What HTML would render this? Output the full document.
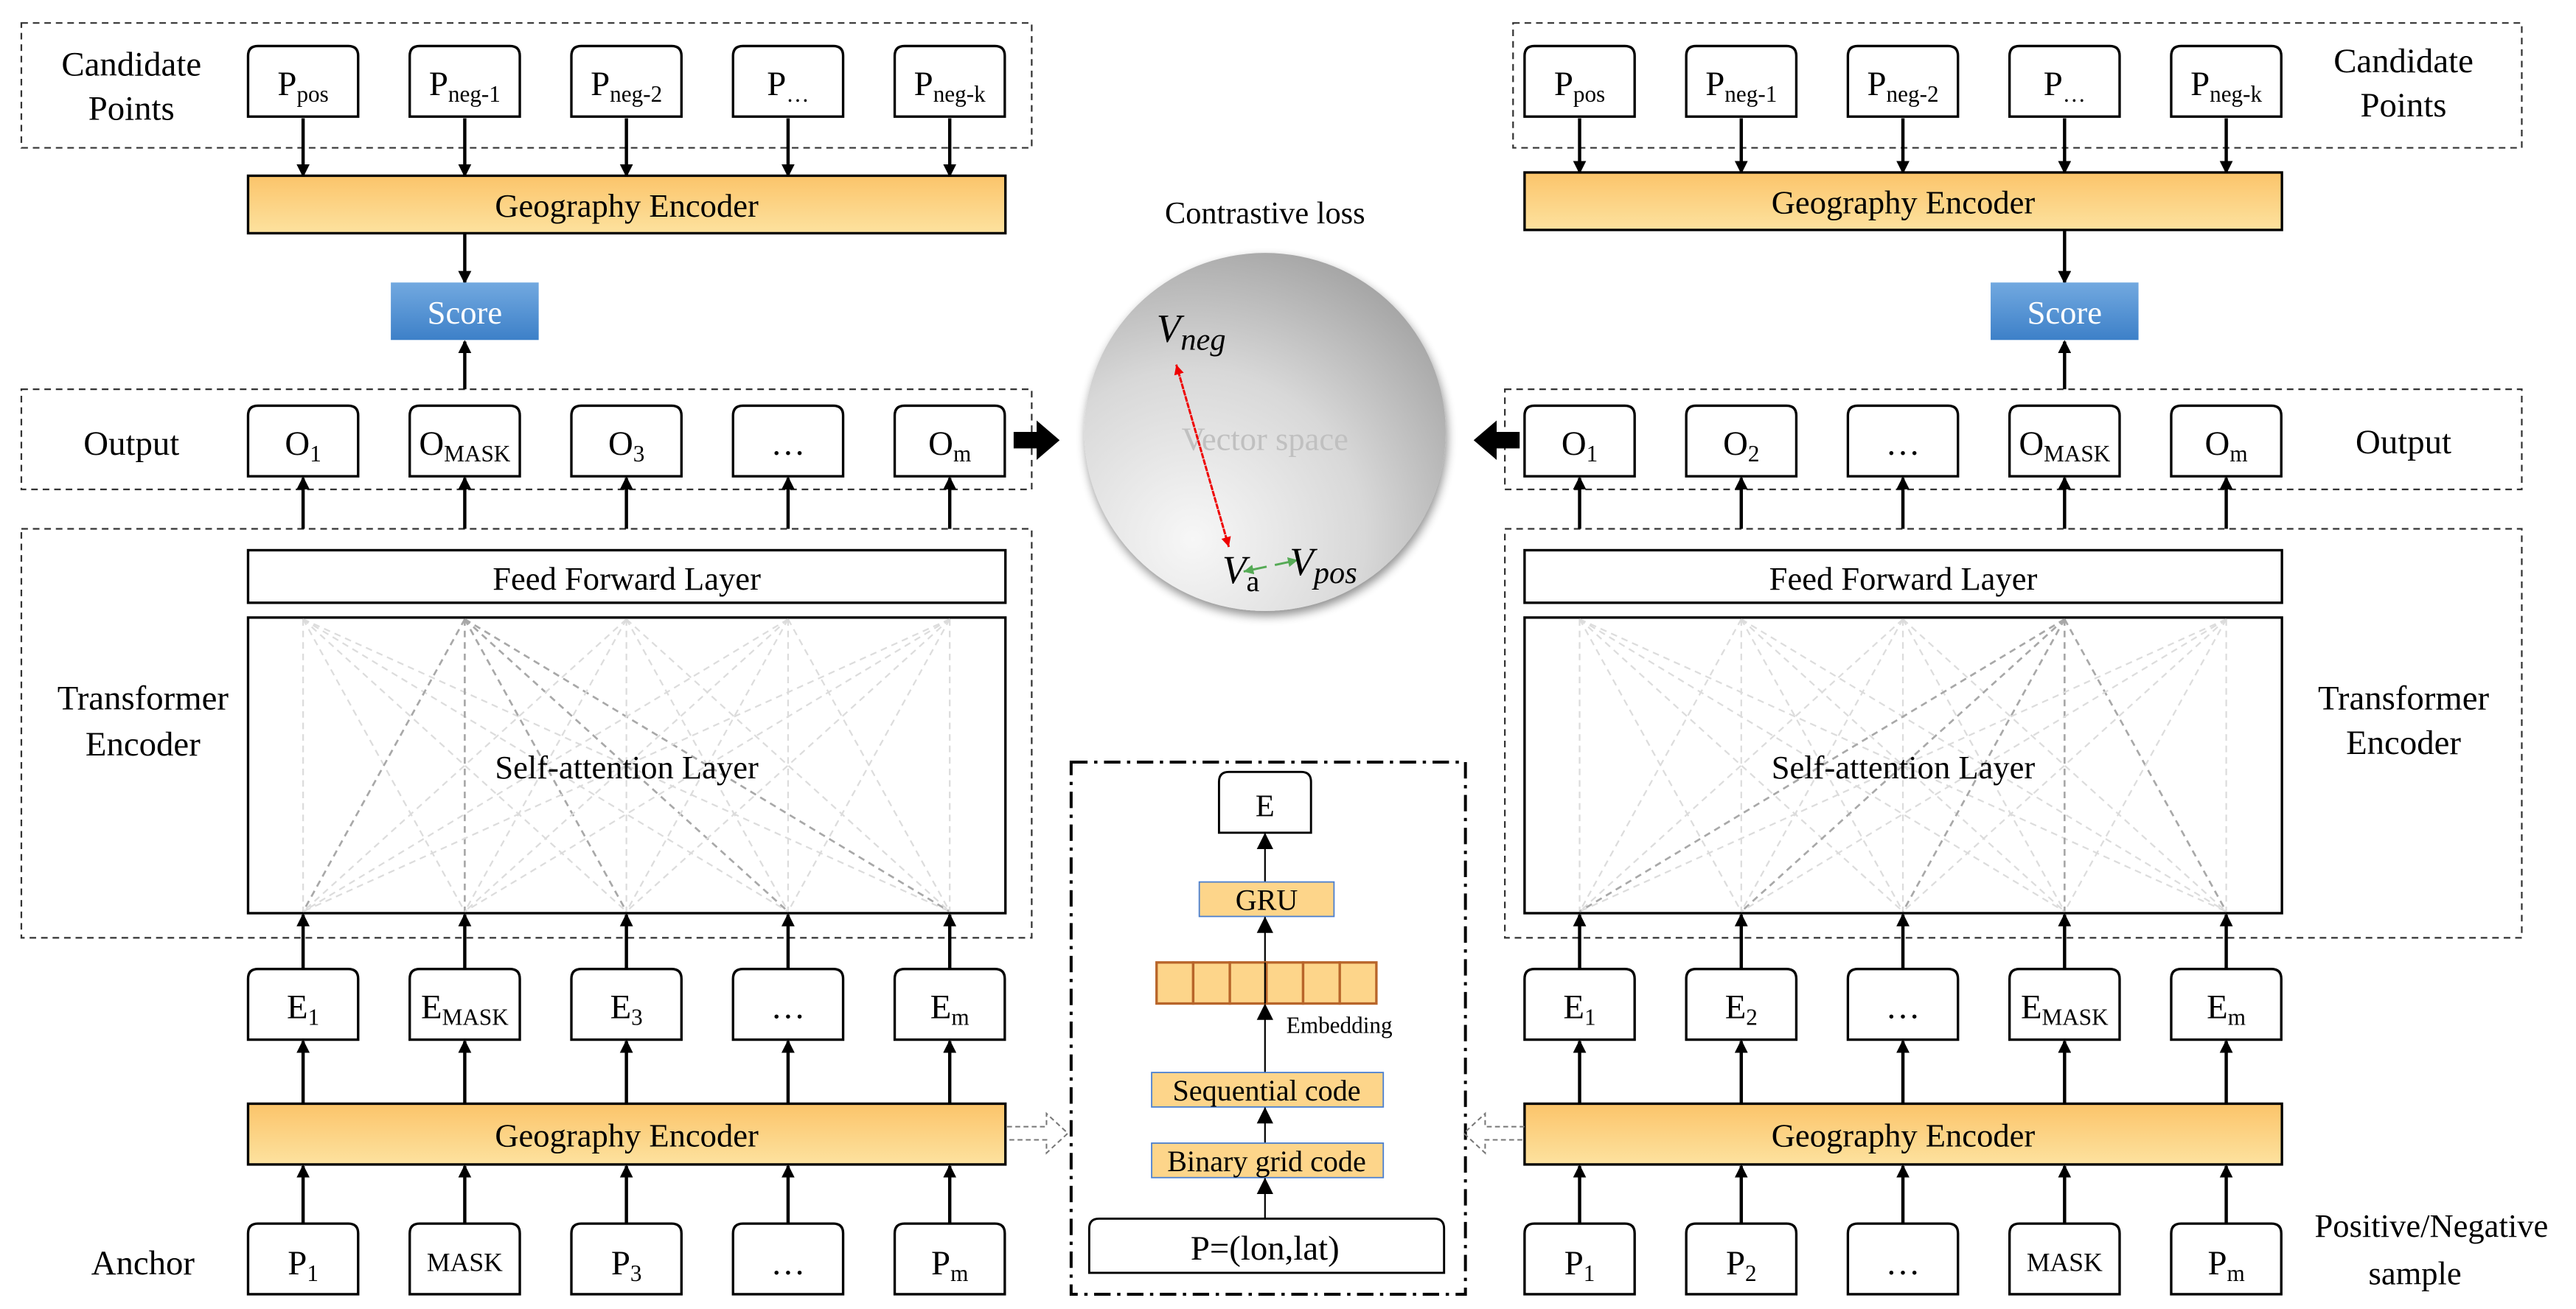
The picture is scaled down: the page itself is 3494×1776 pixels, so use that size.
<!DOCTYPE html>
<html><head><meta charset="utf-8"><style>
html,body{margin:0;padding:0;background:#fff;}
svg{display:block;}
text{font-family:"Liberation Serif",serif;fill:#000;}
</style></head><body>
<svg id="s" width="3494" height="1776" viewBox="0 0 1568 797" preserveAspectRatio="none" xmlns="http://www.w3.org/2000/svg">
<defs>
<linearGradient id="geo" x1="0" y1="0" x2="0" y2="1"><stop offset="0" stop-color="#fbc46a"/><stop offset="1" stop-color="#fde29f"/></linearGradient>
<linearGradient id="sc" x1="0" y1="0" x2="0" y2="1"><stop offset="0" stop-color="#72a9e0"/><stop offset="1" stop-color="#3d80c8"/></linearGradient>
<radialGradient id="sph" cx="0.3" cy="0.8" r="0.95"><stop offset="0" stop-color="#f7f7f7"/><stop offset="0.5" stop-color="#d8d8d8"/><stop offset="1" stop-color="#9a9a9a"/></radialGradient>
<filter id="sh" x="-20%" y="-20%" width="140%" height="140%"><feGaussianBlur in="SourceAlpha" stdDeviation="3"/><feOffset dx="1" dy="3"/><feComponentTransfer><feFuncA type="linear" slope="0.45"/></feComponentTransfer><feMerge><feMergeNode/><feMergeNode in="SourceGraphic"/></feMerge></filter>
<marker id="ah" markerWidth="8" markerHeight="8" refX="7" refY="4" orient="auto" markerUnits="userSpaceOnUse"><path d="M0,0 L8,4 L0,8 z" fill="#000"/></marker>
<marker id="ar" markerWidth="6" markerHeight="6" refX="6" refY="3" orient="auto" markerUnits="userSpaceOnUse"><path d="M0,0 L6,3 L0,6 z" fill="#e00"/></marker>
<marker id="ag" markerWidth="6" markerHeight="6" refX="6" refY="3" orient="auto" markerUnits="userSpaceOnUse"><path d="M0,0 L6,3 L0,6 z" fill="#5a5"/></marker>
</defs>
<g id="g"></g>

<text x="80" y="46" font-size="21" text-anchor="middle">Candidate</text>
<text x="80" y="73" font-size="21" text-anchor="middle">Points</text>
<text x="80" y="277" font-size="21" text-anchor="middle">Output</text>
<text x="87" y="432" font-size="21" text-anchor="middle">Transformer</text>
<text x="87" y="460" font-size="21" text-anchor="middle">Encoder</text>
<text x="87" y="776" font-size="21" text-anchor="middle">Anchor</text>
<text x="1463" y="44" font-size="21" text-anchor="middle">Candidate</text>
<text x="1463" y="71" font-size="21" text-anchor="middle">Points</text>
<text x="1463" y="276" font-size="21" text-anchor="middle">Output</text>
<text x="1463" y="432" font-size="21" text-anchor="middle">Transformer</text>
<text x="1463" y="459" font-size="21" text-anchor="middle">Encoder</text>
<text x="1480" y="753" font-size="20" text-anchor="middle">Positive/Negative</text>
<text x="1470" y="782" font-size="20" text-anchor="middle">sample</text>

<text x="770" y="136" font-size="19" text-anchor="middle">Contrastive loss</text>
<ellipse cx="770" cy="263" rx="110" ry="109" fill="url(#sph)" filter="url(#sh)"/>
<text x="770" y="274" font-size="20" text-anchor="middle" style="fill:#c0c0c0">Vector space</text>
<line x1="716" y1="222" x2="748" y2="333" stroke="#e00" stroke-width="1.3" stroke-dasharray="2,2" marker-end="url(#ar)"/>
<line x1="748" y1="333" x2="716" y2="222" stroke="#e00" stroke-width="1.3" stroke-dasharray="2,2" marker-end="url(#ar)"/>
<line x1="771" y1="345" x2="757" y2="348" stroke="#5a5" stroke-width="1.3" marker-end="url(#ag)"/>
<line x1="776" y1="344" x2="790" y2="341" stroke="#5a5" stroke-width="1.3" marker-end="url(#ag)"/>
<text x="704" y="208" font-size="24" font-style="italic">V<tspan font-size="19" dy="5">neg</tspan></text>
<text x="744" y="355" font-size="24" font-style="italic">V<tspan font-size="18" dy="5" font-style="normal">a</tspan></text>
<text x="785" y="350" font-size="24" font-style="italic">V<tspan font-size="19" dy="5">pos</tspan></text>
<path d="M617,263 h14 v-7 l14,12 l-14,12 v-7 h-14z" fill="#000"/>
<path d="M925,263 h-14 v-7 l-14,12 l14,12 v-7 h14z" fill="#000"/>

<rect x="652" y="464" width="240" height="324" fill="none" stroke="#000" stroke-width="1.8" stroke-dasharray="10,4,2,4"/>
<line x1="770" y1="742" x2="770" y2="478" stroke="#000" stroke-width="1"/>
<path d="M742,507 v-31 q0,-6 6,-6 h44 q6,0 6,6 v31z" fill="#fff" stroke="#000" stroke-width="1.3"/>
<text x="770" y="497" font-size="19" text-anchor="middle">E</text>
<path d="M765,517 l5,-10 l5,10z"/>
<rect x="730" y="537" width="82" height="21" fill="#fdd58a" stroke="#4a7fd0" stroke-width="0.8"/>
<text x="771" y="554" font-size="18" text-anchor="middle">GRU</text>
<path d="M765,568 l5,-10 l5,10z"/>
<g fill="#fdd58a" stroke="#b8652a" stroke-width="1.5">
<rect x="704" y="586" width="22.3" height="25"/><rect x="726.3" y="586" width="22.3" height="25"/><rect x="748.6" y="586" width="22.3" height="25"/><rect x="770.9" y="586" width="22.3" height="25"/><rect x="793.2" y="586" width="22.3" height="25"/><rect x="815.5" y="586" width="22.3" height="25"/>
</g>
<line x1="770" y1="586" x2="770" y2="611" stroke="#000" stroke-width="1"/>
<path d="M765,621 l5,-10 l5,10z"/>
<text x="783" y="629" font-size="14">Embedding</text>
<rect x="701" y="653" width="141" height="21" fill="#fdd58a" stroke="#4a7fd0" stroke-width="0.8"/>
<text x="771" y="670" font-size="18" text-anchor="middle">Sequential code</text>
<path d="M765,684 l5,-10 l5,10z"/>
<rect x="701" y="696" width="141" height="21" fill="#fdd58a" stroke="#4a7fd0" stroke-width="0.8"/>
<text x="771" y="713" font-size="18" text-anchor="middle">Binary grid code</text>
<path d="M765,727 l5,-10 l5,10z"/>
<path d="M663,775 v-27 q0,-6 6,-6 h204 q6,0 6,6 v27z" fill="#fff" stroke="#000" stroke-width="1.3"/>
<text x="770" y="767" font-size="21" text-anchor="middle">P=(lon,lat)</text>

<path d="M613,686 h24 v-8 l13,12 l-13,12 v-8 h-24" fill="none" stroke="#777" stroke-width="0.9" stroke-dasharray="3,2"/>
<path d="M928,686 h-24 v-8 l-13,12 l13,12 v-8 h24" fill="none" stroke="#777" stroke-width="0.9" stroke-dasharray="3,2"/>

<g id="t"></g>
</svg>
<script>
var g=document.getElementById('g'),T=document.getElementById('t'),NS='http://www.w3.org/2000/svg';
function el(p,tag,a){var e=document.createElementNS(NS,tag);for(var k in a)e.setAttribute(k,a[k]);p.appendChild(e);return e;}
function dash(x,y,w,h){el(g,'rect',{x:x,y:y,width:w,height:h,fill:'none',stroke:'#333','stroke-width':1,'stroke-dasharray':'4,3'});}
function box(x,y,w,h){el(g,'path',{d:'M'+x+','+(y+h)+' v'+(-(h-6))+' q0,-6 6,-6 h'+(w-12)+' q6,0 6,6 v'+(h-6)+'z',fill:'#fff',stroke:'#000','stroke-width':1.5});}
function arr(x,y1,y2){el(g,'line',{x1:x,y1:y1,x2:x,y2:y2,stroke:'#000','stroke-width':2,'marker-end':'url(#ah)'});}
function lbl(cx,cy,main,sub,fs,ss){var t=el(T,'text',{x:cx,y:cy,'font-size':fs||21,'text-anchor':'middle'});t.appendChild(document.createTextNode(main));if(sub){var s=el(t,'tspan',{'font-size':ss||14,dy:4});s.textContent=sub;}return t;}
function panel(X,dashX,dashW,geoTop,mask,P,O,E,cands){
 var ex=(X>600?5:0);
 dash(dashX,14,dashW,76);dash(dashX-ex,237,dashW+ex,61);dash(dashX-ex,322,dashW+ex,249);
 for(var i=0;i<5;i++){var bx=X+i*98.4,c=bx+33.5;
  box(bx,28,67,43);arr(c,72,geoTop);
  box(bx,247,67,43);arr(c,322,291);
  box(bx,590,67,43);arr(c,590,557);arr(c,672,634);
  box(bx,745,67,43);arr(c,745,710);
  lbl(c,58,'P',cands[i]);lbl(c,277,O[i][0],O[i][1]);lbl(c,620,E[i][0],E[i][1]);
  if(P[i][0]=='MASK')lbl(c,774,'MASK','',16);else lbl(c,776,P[i][0],P[i][1]);
 }
 el(g,'rect',{x:X,y:geoTop,width:461,height:35,fill:'url(#geo)',stroke:'#000','stroke-width':1.5});
 lbl(X+230.5,geoTop+25,'Geography Encoder','',20);
 el(g,'rect',{x:X,y:672,width:461,height:37,fill:'url(#geo)',stroke:'#000','stroke-width':1.5});
 lbl(X+230.5,698,'Geography Encoder','',20);
 var sx=X+mask*98.4+33.5;
 arr(sx,geoTop+35,172);arr(sx,237,208);
 el(g,'rect',{x:sx-45,y:172,width:90,height:35,fill:'url(#sc)'});
 var st=lbl(sx,197,'Score','',20);st.setAttribute('style','fill:#fff');
 el(g,'rect',{x:X,y:335,width:461,height:32,fill:'#fff',stroke:'#000','stroke-width':1.5});
 lbl(X+230.5,359,'Feed Forward Layer','',20);
 el(g,'rect',{x:X,y:376,width:461,height:180,fill:'#fff',stroke:'#000','stroke-width':1.5});
 for(var a=0;a<5;a++)for(var b=0;b<5;b++){var ax=X+a*98.4+33.5,bx2=X+b*98.4+33.5;
  el(g,'line',{x1:ax,y1:377,x2:bx2,y2:555,stroke:a==mask?'#a8a8a8':'#dcdcdc','stroke-width':a==mask?1.2:1,'stroke-dasharray':'4,3'});}
 lbl(X+230.5,474,'Self-attention Layer','',20);
}
panel(151,13,615,107,1,
 [['P','1'],['MASK',''],['P','3'],['…',''],['P','m']],
 [['O','1'],['O','MASK'],['O','3'],['…',''],['O','m']],
 [['E','1'],['E','MASK'],['E','3'],['…',''],['E','m']],
 ['pos','neg-1','neg-2','…','neg-k']);
panel(928,921,614,105,3,
 [['P','1'],['P','2'],['…',''],['MASK',''],['P','m']],
 [['O','1'],['O','2'],['…',''],['O','MASK'],['O','m']],
 [['E','1'],['E','2'],['…',''],['E','MASK'],['E','m']],
 ['pos','neg-1','neg-2','…','neg-k']);
</script>
</body></html>
